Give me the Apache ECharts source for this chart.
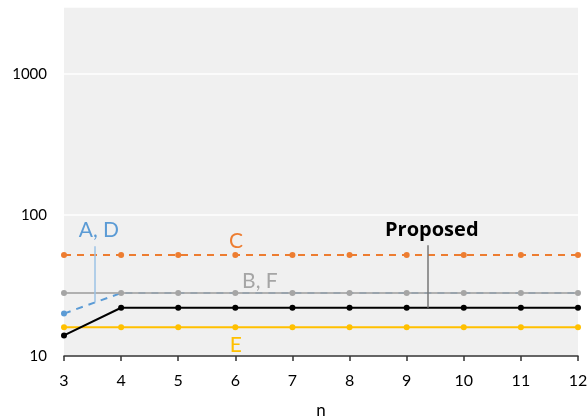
<!DOCTYPE html>
<html>
<head>
<meta charset="utf-8">
<script src="https://cdn.jsdelivr.net/npm/echarts@6/dist/echarts.min.js"></script>
<style>
  html, body { margin: 0; padding: 0; background: #fff; }
  #chart { width: 588px; height: 420px; }
</style>
</head>
<body>
<div id="chart"></div>
<script>
// Problem size n on the x axis
const nValues = [3, 4, 5, 6, 7, 8, 9, 10, 11, 12];

// Cost per scheme (log scale)
const seriesAD = [20, 28, 28, 28, 28, 28, 28, 28, 28, 28];
const seriesBF = [28, 28, 28, 28, 28, 28, 28, 28, 28, 28];
const seriesC = [52, 52, 52, 52, 52, 52, 52, 52, 52, 52];
const seriesE = [16, 16, 16, 16, 16, 16, 16, 16, 16, 16];
const seriesProposed = [14, 22, 22, 22, 22, 22, 22, 22, 22, 22];

// Y tick labels shown on the log axis
const yTicks = [10, 100, 1000];

// Series name labels: [text, n, value, colour, bold]
const nameLabels = [
  ['A, D', 3.61, 78, '#5B9BD5', false],
  ['C', 6.01, 65, '#ED7D31', false],
  ['B, F', 6.43, 34, '#A5A5A5', false],
  ['E', 6.01, 12, '#FFC000', false],
  ['Proposed', 9.44, 78, '#000000', true]
];

// Leader lines from a label down to its curve: [n, fromValue, toValue, colour]
const leaders = [
  [3.54, 60, 24, '#9DC3E6'],
  [9.37, 61, 22, '#777777']
];

const FONT = 'Lato, "Open Sans", sans-serif';
const BOLD_FONT = '"Open Sans", Lato, sans-serif';

const pair = (ys) => nValues.map((n, i) => [n, ys[i]]);

function lineSeries(name, ys, color, dashed, extra) {
  return Object.assign({
    name: name,
    type: 'line',
    data: pair(ys),
    symbol: 'circle',
    symbolSize: 6,
    showSymbol: true,
    itemStyle: { color: color },
    lineStyle: { color: color, width: 2, type: dashed ? [7, 6] : 'solid' },
    emphasis: { disabled: true },
    animation: false
  }, extra || {});
}

const chart = echarts.init(document.getElementById('chart'), null, { renderer: 'canvas' });

chart.setOption({
  backgroundColor: '#ffffff',
  animation: false,
  grid: {
    left: 64, right: 10, top: 7, bottom: 64,
    containLabel: false,
    outerBoundsMode: 'none',
    show: true, backgroundColor: '#F0F0F0', borderWidth: 0
  },
  xAxis: {
    type: 'value',
    min: 3, max: 12, interval: 1,
    name: 'n',
    nameLocation: 'middle',
    nameGap: 46,
    nameTextStyle: { fontFamily: FONT, fontSize: 17, color: '#000' },
    axisLine: { show: true, lineStyle: { color: '#333', width: 1.5 } },
    axisTick: { show: true, length: 5, lineStyle: { color: '#333', width: 1.5 } },
    axisLabel: { fontFamily: FONT, fontSize: 16, color: '#000', margin: 17 },
    splitLine: { show: false }
  },
  yAxis: {
    type: 'log',
    logBase: 10,
    min: 10, max: 3000,
    axisLine: { show: false },
    axisTick: { show: false },
    axisLabel: {
      fontFamily: FONT, fontSize: 15, color: '#000', margin: 17,
      formatter: (v) => yTicks.some(t => Math.abs(t - v) < 1e-6) ? String(v) : ''
    },
    splitLine: { show: true, lineStyle: { color: '#FFFFFF', width: 1.5 } }
  },
  series: [
    lineSeries('A, D', seriesAD, '#5B9BD5', true, {
      symbolSize: (val, p) => (p.dataIndex === 0 ? 6 : 0),
      z: 1
    }),
    lineSeries('B, F', seriesBF, '#A5A5A5', false, {
      lineStyle: { color: '#A5A5A5', width: 2, opacity: 0.85 },
      z: 2
    }),
    lineSeries('C', seriesC, '#ED7D31', true, { z: 3 }),
    lineSeries('E', seriesE, '#FFC000', false, { z: 3 }),
    lineSeries('Proposed', seriesProposed, '#000000', false, {
      z: 4,
      markLine: {
        silent: true,
        symbol: ['none', 'none'],
        label: { show: false },
        animation: false,
        data: leaders.map(l => [
          { coord: [l[0], l[1]], lineStyle: { color: l[3], width: 1.5, type: 'solid' } },
          { coord: [l[0], l[2]] }
        ])
      },
      markPoint: {
        silent: true,
        symbol: 'circle',
        symbolSize: 0,
        animation: false,
        data: nameLabels.map(l => ({
          coord: [l[1], l[2]],
          label: {
            show: true,
            position: 'inside',
            formatter: l[0],
            color: l[3],
            fontFamily: l[4] ? BOLD_FONT : FONT,
            fontSize: l[4] ? 20 : 21,
            fontWeight: l[4] ? 'bold' : 'normal'
          }
        }))
      }
    })
  ]
});
</script>
</body>
</html>
